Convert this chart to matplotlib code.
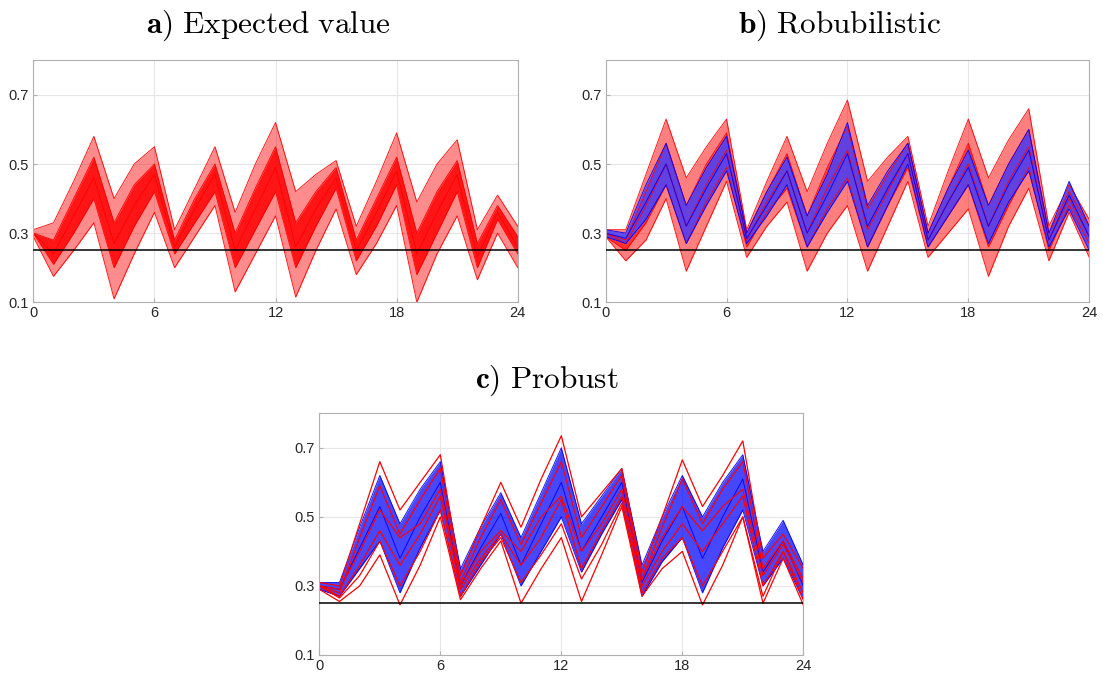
import matplotlib
matplotlib.use('Agg')
import matplotlib.pyplot as plt

plt.rcParams['mathtext.fontset'] = 'cm'
plt.rcParams['font.family'] = ['Liberation Sans', 'DejaVu Sans']

hours = list(range(25))

# a) Expected value -- red band (envelope, dense core, single lines)
a_upper   = [0.31, 0.33, 0.45, 0.58, 0.40, 0.50, 0.55, 0.31, 0.43, 0.55, 0.36, 0.50, 0.62,
             0.42, 0.47, 0.51, 0.32, 0.45, 0.59, 0.39, 0.50, 0.57, 0.31, 0.41, 0.32]
a_core_hi = [0.30, 0.28, 0.40, 0.52, 0.33, 0.44, 0.50, 0.28, 0.40, 0.50, 0.30, 0.43, 0.55,
             0.33, 0.42, 0.49, 0.28, 0.40, 0.52, 0.30, 0.42, 0.51, 0.27, 0.38, 0.29]
a_mid     = [0.30, 0.24, 0.35, 0.46, 0.27, 0.38, 0.47, 0.26, 0.37, 0.47, 0.25, 0.37, 0.49,
             0.26, 0.37, 0.46, 0.25, 0.36, 0.48, 0.24, 0.36, 0.47, 0.23, 0.36, 0.26]
a_core_lo = [0.30, 0.21, 0.30, 0.40, 0.20, 0.32, 0.42, 0.24, 0.33, 0.42, 0.20, 0.31, 0.42,
             0.20, 0.32, 0.43, 0.22, 0.32, 0.44, 0.18, 0.30, 0.42, 0.20, 0.34, 0.24]
a_lower   = [0.29, 0.175, 0.25, 0.33, 0.11, 0.24, 0.36, 0.20, 0.29, 0.38, 0.13, 0.24, 0.35,
             0.115, 0.25, 0.37, 0.18, 0.27, 0.38, 0.10, 0.24, 0.35, 0.165, 0.30, 0.20]

# b) Robubilistic -- red
b_upper   = [0.31, 0.31, 0.47, 0.63, 0.46, 0.55, 0.63, 0.31, 0.45, 0.58, 0.42, 0.56, 0.685,
             0.45, 0.52, 0.58, 0.32, 0.48, 0.63, 0.46, 0.57, 0.66, 0.32, 0.44, 0.34]
b_core_hi = [0.30, 0.28, 0.42, 0.56, 0.38, 0.50, 0.59, 0.30, 0.42, 0.53, 0.35, 0.49, 0.61,
             0.37, 0.47, 0.56, 0.30, 0.43, 0.56, 0.38, 0.50, 0.60, 0.30, 0.42, 0.32]
b_mid     = [0.30, 0.27, 0.38, 0.50, 0.32, 0.44, 0.54, 0.28, 0.39, 0.48, 0.30, 0.43, 0.54,
             0.31, 0.42, 0.53, 0.28, 0.39, 0.50, 0.32, 0.45, 0.55, 0.28, 0.40, 0.29]
b_core_lo = [0.29, 0.25, 0.33, 0.44, 0.27, 0.39, 0.49, 0.26, 0.36, 0.43, 0.26, 0.37, 0.46,
             0.26, 0.38, 0.49, 0.26, 0.35, 0.44, 0.26, 0.38, 0.49, 0.25, 0.38, 0.27]
b_lower   = [0.29, 0.22, 0.28, 0.40, 0.19, 0.32, 0.45, 0.23, 0.32, 0.39, 0.19, 0.30, 0.38,
             0.19, 0.32, 0.45, 0.23, 0.30, 0.37, 0.175, 0.32, 0.43, 0.22, 0.36, 0.23]
# b) Robubilistic -- blue
b_blue_hi  = [0.31, 0.30, 0.44, 0.56, 0.38, 0.49, 0.58, 0.30, 0.42, 0.52, 0.35, 0.47, 0.62,
              0.38, 0.48, 0.56, 0.30, 0.43, 0.54, 0.38, 0.50, 0.60, 0.30, 0.45, 0.32]
b_blue_mid = [0.30, 0.285, 0.39, 0.50, 0.32, 0.43, 0.53, 0.285, 0.38, 0.48, 0.30, 0.41, 0.53,
              0.32, 0.43, 0.53, 0.28, 0.39, 0.49, 0.32, 0.44, 0.54, 0.28, 0.41, 0.29]
b_blue_lo  = [0.29, 0.27, 0.34, 0.44, 0.27, 0.38, 0.48, 0.27, 0.35, 0.44, 0.26, 0.36, 0.45,
              0.26, 0.38, 0.50, 0.26, 0.35, 0.44, 0.27, 0.39, 0.48, 0.26, 0.37, 0.25]

# c) Probust -- blue
c_blue_hi  = [0.31, 0.31, 0.47, 0.62, 0.48, 0.58, 0.66, 0.35, 0.47, 0.57, 0.44, 0.57, 0.70,
              0.48, 0.56, 0.64, 0.36, 0.50, 0.62, 0.50, 0.60, 0.68, 0.40, 0.49, 0.36]
c_blue_mid = [0.30, 0.29, 0.41, 0.53, 0.38, 0.50, 0.60, 0.30, 0.41, 0.51, 0.36, 0.48, 0.60,
              0.40, 0.50, 0.60, 0.31, 0.43, 0.53, 0.38, 0.50, 0.61, 0.34, 0.43, 0.30]
c_blue_lo  = [0.29, 0.27, 0.35, 0.43, 0.28, 0.41, 0.52, 0.27, 0.36, 0.45, 0.30, 0.40, 0.50,
              0.34, 0.45, 0.55, 0.27, 0.37, 0.44, 0.28, 0.41, 0.52, 0.30, 0.38, 0.26]
# c) Probust -- a few red scenarios
c_red = [
    [0.31, 0.30, 0.48, 0.66, 0.52, 0.60, 0.68, 0.33, 0.47, 0.60, 0.47, 0.61, 0.735,
     0.50, 0.57, 0.64, 0.34, 0.50, 0.665, 0.53, 0.62, 0.72, 0.38, 0.45, 0.35],
    [0.30, 0.28, 0.44, 0.59, 0.45, 0.55, 0.64, 0.31, 0.44, 0.55, 0.42, 0.54, 0.66,
     0.44, 0.53, 0.62, 0.32, 0.47, 0.61, 0.48, 0.58, 0.66, 0.35, 0.43, 0.32],
    [0.30, 0.29, 0.40, 0.52, 0.44, 0.48, 0.58, 0.30, 0.40, 0.46, 0.40, 0.50, 0.56,
     0.40, 0.48, 0.58, 0.32, 0.44, 0.53, 0.46, 0.53, 0.58, 0.33, 0.42, 0.31],
    [0.30, 0.27, 0.36, 0.46, 0.36, 0.45, 0.56, 0.29, 0.38, 0.45, 0.36, 0.44, 0.55,
     0.35, 0.46, 0.56, 0.30, 0.40, 0.48, 0.40, 0.48, 0.56, 0.30, 0.40, 0.28],
    [0.30, 0.265, 0.33, 0.43, 0.30, 0.40, 0.52, 0.27, 0.37, 0.44, 0.31, 0.39, 0.48,
     0.32, 0.42, 0.54, 0.28, 0.38, 0.44, 0.30, 0.40, 0.50, 0.27, 0.40, 0.26],
    [0.29, 0.255, 0.30, 0.39, 0.245, 0.36, 0.50, 0.26, 0.35, 0.43, 0.25, 0.35, 0.44,
     0.255, 0.39, 0.53, 0.27, 0.35, 0.40, 0.245, 0.36, 0.50, 0.25, 0.38, 0.245],
]

limit = 0.25
xticks = [0, 6, 12, 18, 24]
yticks = [0.1, 0.3, 0.5, 0.7]


def style_axes(ax):
    ax.set_xlim(0, 24)
    ax.set_ylim(0.1, 0.8)
    ax.set_xticks(xticks)
    ax.set_yticks(yticks)
    ax.set_yticklabels(['0.1', '0.3', '0.5', '0.7'])
    ax.grid(True, color='#e6e6e6', lw=0.8)
    ax.set_axisbelow(True)
    ax.tick_params(direction='in', length=3, color='#b0b0b0', labelsize=10.5,
                   labelcolor='#262626', pad=3)
    for s in ax.spines.values():
        s.set_color('#b0b0b0')
        s.set_linewidth(0.8)
    ax.axhline(limit, color='black', lw=1.1, zorder=5)


def band(ax, lower, core_lo, mid, core_hi, upper, color, outer=0.45, inner=0.85):
    ax.fill_between(hours, lower, upper, color=color, alpha=outer, lw=0)
    ax.fill_between(hours, core_lo, core_hi, color=color, alpha=inner, lw=0)
    for ys in (lower, core_lo, mid, core_hi, upper):
        ax.plot(hours, ys, color=color, lw=0.7, alpha=0.9)


fig = plt.figure(figsize=(11.03, 6.76), dpi=100)
ax_a = fig.add_axes([0.0302, 0.5528, 0.4392, 0.358])
ax_b = fig.add_axes([0.5491, 0.5528, 0.4384, 0.358])
ax_c = fig.add_axes([0.2895, 0.0311, 0.4388, 0.3575])

band(ax_a, a_lower, a_core_lo, a_mid, a_core_hi, a_upper, '#ff0000')

band(ax_b, b_lower, b_core_lo, b_mid, b_core_hi, b_upper, '#ff0000', outer=0.5, inner=0.6)
# blue scenarios sit on top of the red ones; lighten with a white underlay
ax_b.fill_between(hours, b_blue_lo, b_blue_hi, color='white', alpha=0.6, lw=0)
ax_b.fill_between(hours, b_blue_lo, b_blue_hi, color='#0000ff', alpha=0.62, lw=0)
for ys in (b_blue_lo, b_blue_mid, b_blue_hi):
    ax_b.plot(hours, ys, color='#0000ff', lw=0.7, alpha=0.9)

ax_c.fill_between(hours, c_blue_lo, c_blue_hi, color='#0000ff', alpha=0.72, lw=0)
for ys in (c_blue_lo, c_blue_mid, c_blue_hi):
    ax_c.plot(hours, ys, color='#0000ff', lw=0.7, alpha=0.9)
for ys in c_red:
    ax_c.plot(hours, ys, color='#ff0000', lw=0.9)

for ax in (ax_a, ax_b, ax_c):
    style_axes(ax)

fig.text(0.243, 1 - 33 / 676, r'$\mathbf{a)}\ \mathrm{Expected\ value}$',
         ha='center', va='baseline', fontsize=22.5)
fig.text(0.761, 1 - 33 / 676, r'$\mathbf{b)}\ \mathrm{Robubilistic}$',
         ha='center', va='baseline', fontsize=22.5)
fig.text(0.496, 1 - 388 / 676, r'$\mathbf{c)}\ \mathrm{Probust}$',
         ha='center', va='baseline', fontsize=22.5)

fig.savefig('out.png', dpi=100)
